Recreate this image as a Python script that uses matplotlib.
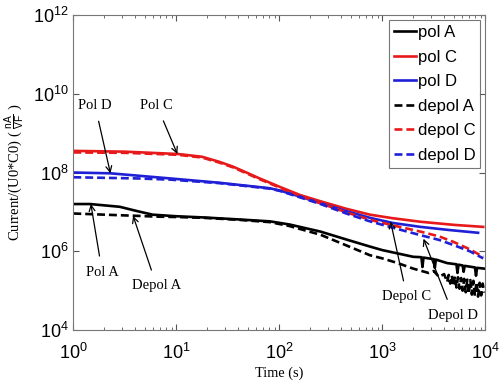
import matplotlib
matplotlib.use("Agg")
import matplotlib.pyplot as plt
import numpy as np
from matplotlib.ticker import LogLocator, NullLocator, FixedLocator

plt.rcParams['mathtext.fontset'] = 'custom'
plt.rcParams['mathtext.rm'] = 'Liberation Sans'
plt.rcParams['mathtext.it'] = 'Liberation Sans:italic'
plt.rcParams['mathtext.bf'] = 'Liberation Sans:bold'

# data: log10(time), log10(current)
polC_t = [0.0, 0.5, 1.02, 1.25, 1.42, 1.55, 1.69, 1.80, 1.91, 2.01, 2.20, 2.40, 2.65, 2.88, 3.10, 3.37, 3.70, 3.98]
polC_y = [8.55, 8.53, 8.47, 8.40, 8.27, 8.15, 7.99, 7.86, 7.74, 7.63, 7.43, 7.27, 7.08, 6.93, 6.84, 6.75, 6.67, 6.62]

depolC_t = [0.0, 0.5, 1.02, 1.25, 1.42, 1.55, 1.69, 1.80, 1.91, 2.01, 2.20, 2.40, 2.65, 2.88, 3.10, 3.37, 3.55, 3.69, 3.85, 3.98]
depolC_y = [8.51, 8.50, 8.45, 8.38, 8.25, 8.13, 7.97, 7.84, 7.72, 7.61, 7.41, 7.22, 6.99, 6.80, 6.66, 6.50, 6.38, 6.24, 6.05, 5.86]

polD_t = [0.0, 0.36, 0.94, 1.42, 1.91, 2.01, 2.20, 2.40, 2.65, 2.88, 3.10, 3.37, 3.65, 3.93]
polD_y = [8.00, 7.98, 7.85, 7.74, 7.60, 7.54, 7.39, 7.22, 7.02, 6.85, 6.72, 6.62, 6.54, 6.47]

depolD_t = [0.0, 0.62, 0.94, 1.42, 1.91, 2.01, 2.20, 2.40, 2.65, 2.88, 3.10, 3.37, 3.55, 3.69, 3.85, 3.98]
depolD_y = [7.88, 7.85, 7.82, 7.73, 7.59, 7.53, 7.37, 7.20, 6.96, 6.76, 6.60, 6.41, 6.29, 6.16, 6.00, 5.82]

polA_t = [0.0, 0.16, 0.45, 0.62, 0.77, 1.0, 1.26, 1.60, 1.91, 2.10, 2.40, 2.65, 2.88, 3.00, 3.30, 3.38, 3.39, 3.40, 3.50, 3.51, 3.52,
          3.63, 3.72, 3.73, 3.74, 3.78, 3.79, 3.80, 3.90, 3.91, 3.92, 3.99]
polA_y = [7.20, 7.20, 7.13, 7.02, 6.93, 6.89, 6.86, 6.81, 6.76, 6.68, 6.50, 6.30, 6.12, 6.03, 5.86, 5.85, 5.60, 5.84, 5.80, 5.58, 5.79,
          5.70, 5.67, 5.45, 5.66, 5.64, 5.48, 5.63, 5.59, 5.38, 5.58, 5.56]

depolA_t = [0.0, 0.30, 0.62, 0.81, 1.0, 1.26, 1.60, 1.91, 2.10, 2.40, 2.65, 2.88, 3.00, 3.15, 3.30, 3.45, 3.50, 3.55, 3.60,
            3.63, 3.645, 3.66, 3.675, 3.69, 3.705, 3.72, 3.735, 3.75, 3.765, 3.78, 3.795, 3.81, 3.825, 3.84, 3.855,
            3.87, 3.885, 3.90, 3.915, 3.93, 3.945, 3.96, 3.975, 3.99]
depolA_y = [6.96, 6.93, 6.90, 6.88, 6.87, 6.85, 6.80, 6.74, 6.64, 6.42, 6.15, 5.90, 5.82, 5.70, 5.56, 5.45, 5.50, 5.35, 5.42,
            5.22, 5.40, 5.18, 5.38, 5.12, 5.36, 5.08, 5.34, 5.05, 5.32, 5.00, 5.30, 4.96, 5.28, 4.92, 5.27,
            4.90, 5.25, 4.87, 5.22, 4.85, 5.20, 4.88, 5.18, 4.95]

labels = ['pol A', 'pol C', 'pol D', 'depol A', 'depol C', 'depol D']

fig = plt.figure(figsize=(4.99, 3.82), dpi=100)
ax = fig.add_axes([0.147, 0.136, 0.8255, 0.8247])

def p(t, y):
    return 10 ** np.array(t), 10 ** np.array(y)

lw = 1.9
dash = (0, (3, 1.5))
ax.plot(*p(polA_t, polA_y), color='black', lw=lw, label=labels[0])
ax.plot(*p(polC_t, polC_y), color='#e8191b', lw=lw, label=labels[1])
ax.plot(*p(polD_t, polD_y), color='#1f1fd6', lw=lw, label=labels[2])
ax.plot(*p(depolA_t, depolA_y), color='black', lw=lw, ls=dash, label=labels[3])
ax.plot(*p(depolC_t, depolC_y), color='#e8191b', lw=lw, ls=dash, label=labels[4])
ax.plot(*p(depolD_t, depolD_y), color='#1f1fd6', lw=lw, ls=dash, label=labels[5])

ax.set_xscale('log')
ax.set_yscale('log')
ax.set_xlim(1, 1e4)
ax.set_ylim(1e4, 1e12)

ax.xaxis.set_major_locator(FixedLocator([1, 10, 100, 1000, 10000]))
ax.xaxis.set_minor_locator(LogLocator(base=10, subs=np.arange(2, 10)))
ax.yaxis.set_major_locator(FixedLocator([1e4, 1e6, 1e8, 1e10, 1e12]))
ax.yaxis.set_minor_locator(NullLocator())
ax.set_xticklabels([r'$10^{%d}$' % i for i in range(5)])
ax.set_yticklabels([r'$10^{%d}$' % i for i in [4, 6, 8, 10, 12]])
ax.tick_params(which='both', direction='in', top=True, right=True, labelsize=13, color='#555555')
ax.tick_params(axis='x', which='major', pad=9)
ax.tick_params(which='major', length=4)
ax.tick_params(which='minor', length=2.5)
for s in ax.spines.values():
    s.set_color('#777777')
    s.set_linewidth(0.8)

ax.set_xlabel('Time (s)', family='Liberation Serif', fontsize=10.3, labelpad=3)
ax.set_ylabel(r'Current/(U0*C0) ( $\frac{\mathrm{nA}}{\mathrm{VF}}$ )', family='Liberation Serif', fontsize=10.5, labelpad=4)

leg = ax.legend(loc='upper right', handlelength=1.3, handletextpad=0.1,
                borderpad=0.3, labelspacing=0.57, borderaxespad=0.3, fancybox=False,
                prop={'family': 'Liberation Sans', 'size': 12})
leg.get_frame().set_edgecolor('#555555')
leg.get_frame().set_linewidth(0.8)

ann = dict(family='Liberation Serif', fontsize=10.5, ha='center', va='center')
ap = dict(arrowstyle='->', color='black', lw=0.9, shrinkA=5, shrinkB=0)

def ann_txt(txt, xy, xytext):
    ax.annotate(txt, xy=xy, xytext=xytext, textcoords='data', arrowprops=ap, **ann)

ann_txt('Pol D', (10 ** 0.36, 10 ** 7.98), (10 ** 0.21, 10 ** 9.71))
ann_txt('Pol C', (10 ** 1.01, 10 ** 8.47), (10 ** 0.81, 10 ** 9.71))
ann_txt('Pol A', (10 ** 0.17, 10 ** 7.20), (10 ** 0.28, 10 ** 5.47))
ann_txt('Depol A', (10 ** 0.58, 10 ** 6.90), (10 ** 0.81, 10 ** 5.12))
ann_txt('Depol C', (10 ** 3.08, 10 ** 6.76), (10 ** 3.24, 10 ** 4.84))
ann_txt('Depol D', (10 ** 3.40, 10 ** 6.32), (10 ** 3.69, 10 ** 4.38))

fig.savefig('out.png', dpi=100)
